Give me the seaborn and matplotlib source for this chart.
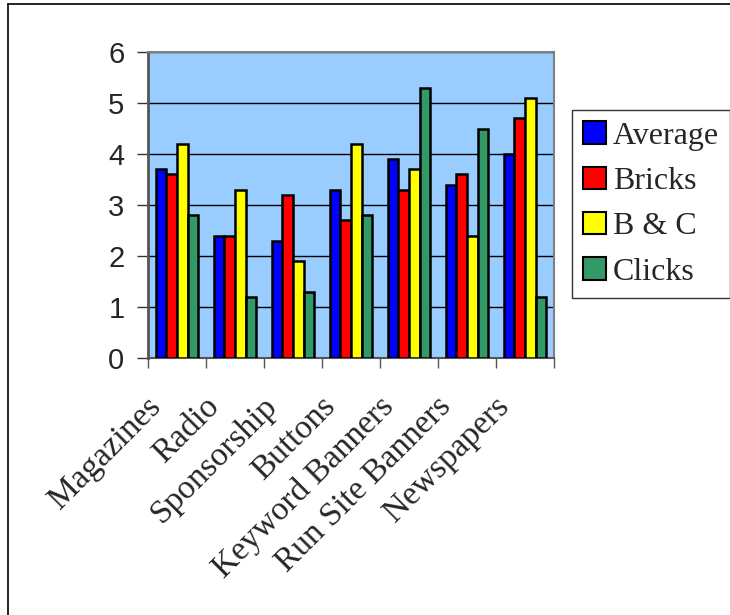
import matplotlib
matplotlib.use("Agg")
import matplotlib.pyplot as plt
from matplotlib.lines import Line2D
from matplotlib.patches import Patch
from matplotlib.transforms import ScaledTranslation
import seaborn as sns
import pandas as pd
import numpy as np

categories = ["Magazines", "Radio", "Sponsorship", "Buttons",
              "Keyword Banners", "Run Site Banners", "Newspapers"]
average = [3.7, 2.4, 2.3, 3.3, 3.9, 3.4, 4.0]
bricks = [3.6, 2.4, 3.2, 2.7, 3.3, 3.6, 4.7]
b_and_c = [4.2, 3.3, 1.9, 4.2, 3.7, 2.4, 5.1]
clicks = [2.8, 1.2, 1.3, 2.8, 5.3, 4.5, 1.2]
series_names = ["Average", "Bricks", "B & C", "Clicks"]
y_ticks = [0, 1, 2, 3, 4, 5, 6]

colors = ["#0000FF", "#FF0000", "#FFFF00", "#339966"]

rows = []
for name, vals in zip(series_names, [average, bricks, b_and_c, clicks]):
    for cat, v in zip(categories, vals):
        rows.append({"Category": cat, "Series": name, "Value": v})
df = pd.DataFrame(rows)

sns.set_theme(style="white")
plt.rcParams["font.family"] = ["Liberation Serif", "DejaVu Serif"]

fig = plt.figure(figsize=(7.3, 6.15), dpi=100)
ax = fig.add_axes([148 / 730, 1 - 358 / 615, (554 - 148) / 730, (358 - 52) / 615])
ax.set_facecolor("#99CCFF")

sns.barplot(data=df, x="Category", y="Value", hue="Series", order=categories,
            hue_order=series_names, palette=colors, width=0.74,
            edgecolor="black", linewidth=1.8, saturation=1, ax=ax, legend=False,
            zorder=3)

ax.set_ylim(0, 6)
ax.set_xlim(-0.5, len(categories) - 0.5)
ax.set_yticks(y_ticks)
ax.set_yticklabels([str(t) for t in y_ticks], fontfamily="Liberation Sans", fontsize=21)
ax.yaxis.grid(True, color="black", linewidth=1)
ax.set_axisbelow(True)
ax.tick_params(axis="y", which="major", left=True, length=8, width=1, color="#333333", pad=9)

# category labels at the centres, tick marks on the boundaries
ax.set_xticks(np.arange(len(categories)))
ax.set_xticklabels(categories, rotation=45, ha="right", rotation_mode="anchor",
                   fontsize=24, fontfamily="Liberation Serif")
ax.set_xticks(np.arange(-0.5, len(categories)), minor=True)
ax.tick_params(axis="x", which="major", length=0, pad=0)
ax.tick_params(axis="x", which="minor", bottom=True, length=7, width=1, color="#555555")
shift = ScaledTranslation(-31 / 100, -33 / 100, fig.dpi_scale_trans)
for lab in ax.get_xticklabels():
    lab.set_transform(lab.get_transform() + shift)

ax.set_xlabel("")
ax.set_ylabel("")
for side, sp in ax.spines.items():
    sp.set_visible(True)
    sp.set_color("#808080")
    sp.set_linewidth(1.5)
ax.spines["left"].set_color("#555555")
ax.spines["left"].set_linewidth(2)
ax.spines["bottom"].set_color("#555555")

handles = [Patch(facecolor=c, edgecolor="black", linewidth=1.5) for c in colors]
leg = fig.legend(handles, series_names, loc="upper left",
                 bbox_to_anchor=(572 / 730, 1 - 110 / 615),
                 frameon=True, fancybox=False, fontsize=23,
                 handlelength=0.7, handleheight=0.7, handletextpad=0.22,
                 labelspacing=0.5, borderpad=0.35, borderaxespad=0)
leg.get_frame().set_edgecolor("black")
leg.get_frame().set_linewidth(1)

# outer frame of the chart
fig.add_artist(Line2D([8 / 730, 8 / 730], [0, 1 - 4 / 615], color="black", linewidth=1.2,
                      transform=fig.transFigure))
fig.add_artist(Line2D([8 / 730, 1], [1 - 4 / 615, 1 - 4 / 615], color="black", linewidth=1.2,
                      transform=fig.transFigure))

fig.savefig("out.png", dpi=100)
